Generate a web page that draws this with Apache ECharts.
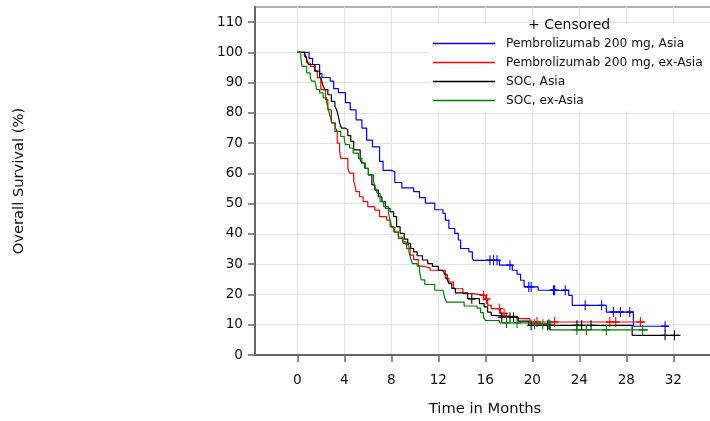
<!DOCTYPE html>
<html>
<head>
<meta charset="utf-8">
<script src="https://cdn.jsdelivr.net/npm/echarts@6/dist/echarts.min.js"></script>
<style>
  html, body { margin: 0; padding: 0; background: #fff; }
  #chart { width: 710px; height: 421px; }
</style>
</head>
<body>
<div id="chart"></div>
<script>
// tick labels
const xTicks = [0, 4, 8, 12, 16, 20, 24, 28, 32];
const yTicks = [0, 10, 20, 30, 40, 50, 60, 70, 80, 90, 100, 110];

const groupNames = ['Pembrolizumab 200 mg, Asia', 'Pembrolizumab 200 mg, ex-Asia', 'SOC, Asia', 'SOC, ex-Asia'];
const groupColors = ['#0000ff', '#ff0000', '#000000', '#008000'];

// KM steps [month, survival %]
const pembroAsia = [[0, 100], [1.0, 98], [1.3, 96], [1.9, 93], [2.1, 91.7], [2.8, 90.5], [3.1, 88], [3.5, 86.7], [4.1, 83.4], [4.5, 81], [5.0, 77.7], [5.5, 75], [5.9, 71], [6.4, 68.8], [7.0, 64], [7.3, 61], [8.0, 60.5], [8.3, 57], [8.9, 55.2], [9.9, 54], [10.4, 52], [10.9, 50.2], [11.7, 48], [12.4, 46.8], [12.6, 44.6], [12.9, 41.8], [13.4, 40.2], [13.7, 38], [13.9, 35.2], [14.6, 34.1], [14.9, 32], [15.0, 31.3], [17.2, 29.7], [18.3, 28], [18.7, 26.7], [19.0, 24.7], [19.3, 22.5], [20.5, 21.4], [23.1, 19.7], [23.4, 16.4], [26.3, 14.2], [28.6, 9.5], [31.6, 9.5]];
const pembroExAsia = [[0, 100], [0.6, 98.7], [0.8, 96.5], [1.1, 95.4], [1.5, 93.8], [1.7, 91.6], [2.0, 87.7], [2.4, 84.4], [2.6, 81], [2.9, 76.7], [3.2, 73.9], [3.4, 70], [3.6, 67.2], [3.7, 65], [4.3, 61.7], [4.45, 60.1], [4.8, 57.3], [4.9, 56.2], [5.0, 54], [5.3, 52.3], [5.6, 50.7], [6.0, 49], [6.6, 47.9], [7.0, 45.7], [7.6, 44.6], [7.9, 42.4], [8.2, 40.7], [8.6, 38.5], [9.0, 36.9], [9.3, 35.2], [9.6, 33], [9.9, 31.5], [10.3, 29.4], [10.6, 28.8], [11.3, 28], [12.6, 25.3], [12.9, 24.1], [13.3, 21.9], [14.1, 20.3], [15.0, 19.7], [16.0, 18.5], [16.2, 16.4], [16.5, 15.3], [17.3, 13.7], [17.8, 12.8], [18.7, 12.0], [19.8, 10.9], [29.6, 10.9]];
const socAsia = [[0, 100], [0.65, 99.3], [0.8, 97.6], [0.95, 96], [1.5, 93.8], [1.9, 92], [2.05, 91], [2.2, 88.8], [2.35, 87.7], [2.6, 86], [2.9, 83.8], [3.2, 82.2], [3.35, 81], [3.5, 78.8], [3.6, 76.7], [3.75, 75], [4.05, 74.4], [4.3, 72.5], [4.55, 70.6], [4.8, 67.8], [5.35, 64.5], [5.5, 63.4], [5.75, 61.7], [6.05, 59.5], [6.35, 56.2], [6.6, 54.5], [6.9, 52.3], [7.2, 50.7], [7.5, 48.5], [7.9, 47.3], [8.2, 45.7], [8.45, 42.4], [8.75, 40.2], [9.1, 38.3], [9.4, 36.9], [9.65, 35.2], [9.9, 34.1], [10.2, 32.8], [10.65, 31.4], [11.1, 30.2], [11.5, 29.3], [12.0, 28], [12.3, 27.4], [12.5, 26.6], [12.75, 25], [12.9, 23.6], [13.15, 22], [13.45, 20.5], [14.5, 18.6], [15.5, 17], [15.9, 15.9], [16.2, 14.2], [16.5, 13.1], [16.8, 12.5], [18.8, 11.2], [19.7, 9.8], [28.5, 6.5], [32.6, 6.5]];
const socExAsia = [[0, 100], [0.3, 98.2], [0.4, 95.4], [0.8, 93.2], [1.1, 92], [1.2, 90.5], [1.5, 89.9], [1.65, 87.7], [1.9, 86.6], [2.2, 85], [2.5, 83.3], [2.65, 81], [2.8, 78.8], [2.95, 76.7], [3.25, 75], [3.4, 73.9], [3.7, 72.2], [4.0, 71.1], [4.1, 69.5], [4.45, 68.4], [4.75, 66.7], [5.2, 65], [5.5, 63.4], [5.8, 61.7], [6.05, 59.5], [6.5, 57], [6.65, 55.3], [6.8, 53.4], [7.05, 50.7], [7.35, 49], [7.75, 47.3], [7.9, 44.3], [8.05, 42.2], [8.3, 40.5], [8.6, 39], [8.95, 37.4], [9.25, 36.5], [9.5, 34.1], [9.65, 31.9], [9.8, 30.2], [10.2, 29.4], [10.4, 27.5], [10.55, 24.8], [10.85, 23.3], [11.7, 21.4], [12.4, 20.8], [12.55, 18.8], [12.7, 17.5], [14.2, 16.2], [15.3, 15.5], [15.6, 14], [15.85, 12.5], [16.0, 11.4], [17.2, 10.6], [19.5, 10.2], [21.5, 8.3], [29.85, 8.3]];

// censoring times (months)
const pembroAsiaCens = [16.4, 16.7, 17.0, 18.1, 19.7, 19.9, 21.8, 21.9, 22.8, 24.5, 25.9, 26.9, 27.5, 28.3, 31.3];
const pembroExAsiaCens = [15.85, 16.1, 17.2, 17.6, 20.4, 21.9, 26.6, 27.1, 29.2];
const socAsiaCens = [14.85, 17.4, 18.1, 18.4, 19.9, 21.3, 21.5, 23.8, 24.2, 25.0, 31.3, 32.1];
const socExAsiaCens = [17.8, 18.7, 20.2, 20.9, 21.4, 23.8, 24.6, 26.3, 29.4];

const curves = [pembroAsia, pembroExAsia, socAsia, socExAsia];
const censored = [pembroAsiaCens, pembroExAsiaCens, socAsiaCens, socExAsiaCens];

const FONT = 'DejaVu Sans';

// survival level of a step curve at time t
function levelAt(steps, t) {
  let v = steps[0][1];
  for (const s of steps) {
    if (s[0] <= t) v = s[1];
  }
  return v;
}

const myChart = echarts.init(document.getElementById('chart'));

const series = [];
curves.forEach((steps, i) => {
  series.push({
    name: groupNames[i],
    type: 'line',
    step: 'end',
    symbol: 'none',
    data: steps,
    lineStyle: { color: groupColors[i], width: 1.2 },
    itemStyle: { color: groupColors[i] },
    z: 3
  });
});
censored.forEach((times, i) => {
  series.push({
    name: groupNames[i] + ' (censored)',
    type: 'scatter',
    symbol: 'path://M5,0 L5,10 M0,5 L10,5',
    symbolSize: [8, 10],
    data: times.map((t) => [t, levelAt(curves[i], t)]),
    itemStyle: { color: 'none', borderColor: groupColors[i], borderWidth: 1.2, opacity: 1 },
    z: 4
  });
});

// legend drawn by hand: white box, line sample + name per group
const legendItems = [{
  type: 'rect',
  shape: { x: 430, y: 24, width: 290, height: 87 },
  style: { fill: '#fff' },
  z: 5
}, {
  type: 'text',
  x: 528, y: 25,
  z: 10,
  style: { text: '+ Censored', fontFamily: FONT, fontSize: 14, fill: '#111', verticalAlign: 'middle' }
}];
groupNames.forEach((n, i) => {
  const rowY = 43.5 + i * 19;
  legendItems.push({
    type: 'line',
    shape: { x1: 433, y1: rowY, x2: 495, y2: rowY },
    style: { stroke: groupColors[i], lineWidth: 1.4 },
    z: 10
  });
  legendItems.push({
    type: 'text',
    x: 506, y: rowY + 0.5,
    z: 10,
    style: { text: n, fontFamily: FONT, fontSize: 12.2, fill: '#111', verticalAlign: 'middle' }
  });
});

const option = {
  animation: false,
  grid: {
    left: 255,
    top: 7,
    width: 460,
    height: 348,
    show: true,
    borderColor: '#666',
    borderWidth: 1,
    outerBoundsMode: 'none'
  },
  graphic: legendItems,
  xAxis: {
    type: 'value',
    min: -3.6,
    max: 35.55,
    name: 'Time in Months',
    nameLocation: 'middle',
    nameGap: 47,
    nameTextStyle: { fontFamily: FONT, fontSize: 14.7, color: '#111' },
    axisLine: { show: true, onZero: false, lineStyle: { color: '#666', width: 2 } },
    axisTick: { show: true, length: 7, customValues: xTicks, lineStyle: { color: '#666', width: 1.5 } },
    axisLabel: { customValues: xTicks, margin: 18, fontFamily: FONT, fontSize: 13.6, color: '#111' },
    splitLine: { show: true, lineStyle: { color: '#e3e3e3', width: 1 } }
  },
  yAxis: {
    type: 'value',
    min: 0,
    max: 115,
    name: 'Overall Survival (%)',
    nameLocation: 'middle',
    nameGap: 228,
    nameTextStyle: { fontFamily: FONT, fontSize: 14.7, color: '#111' },
    axisLine: { show: true, onZero: false, lineStyle: { color: '#666', width: 2 } },
    axisTick: { show: true, length: 7, customValues: yTicks, lineStyle: { color: '#666', width: 1.5 } },
    axisLabel: { customValues: yTicks, margin: 12, fontFamily: FONT, fontSize: 13.6, color: '#111' },
    splitLine: { show: true, lineStyle: { color: '#e3e3e3', width: 1 } }
  },
  series: series
};
option && myChart.setOption(option);
</script>
</body>
</html>
